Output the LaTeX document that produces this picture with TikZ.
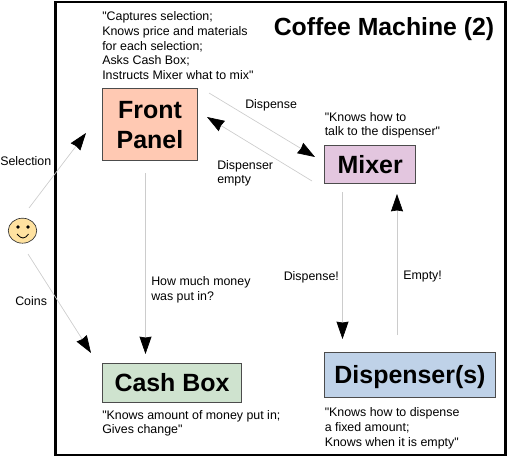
\documentclass[tikz,border=0pt]{standalone}
\usepackage{fontspec}
\setmainfont{Liberation Sans}[Ligatures=TeXOff]
\usetikzlibrary{arrows.meta,shapes.geometric}
\definecolor{fpfill}{HTML}{FFC9B3}
\definecolor{mxfill}{HTML}{E3C6DF}
\definecolor{cbfill}{HTML}{CFE3CF}
\definecolor{dsfill}{HTML}{BFD2E8}
\definecolor{facefill}{HTML}{FFE2A0}
\tikzset{
  px/.style={x=0.75pt,y=-0.75pt},
  boxed/.style={draw=black!70,line width=0.75pt,inner sep=0pt,font=\fontsize{18.7}{22.5}\selectfont\bfseries,align=center},
  note/.style={anchor=north west,inner sep=0pt,align=left,font=\fontsize{9.3}{11}\selectfont},
  conn/.style={draw=black!20,line width=0.5pt,-{Stealth[length=13pt,width=9pt,inset=0.7pt,color=black]}}
}
\begin{document}
\begin{tikzpicture}[px]
\useasboundingbox (0,0) rectangle (508,457);
\node[draw=black,line width=1.9pt,minimum width=450*0.75pt,minimum height=453*0.75pt,inner sep=0pt] (frame) at (280.5,228.5) {};
\node[inner sep=0pt,font=\fontsize{18.6}{22}\selectfont\bfseries] (title) at (384,29.5) {Coffee Machine (2)};

\node[boxed,fill=fpfill,minimum width=95*0.75pt,minimum height=72*0.75pt] (fp) at (150,124) {\raisebox{0pt}[13.5pt][0pt]{Front}\\\raisebox{0pt}[13.5pt][0pt]{Panel}};
\node[boxed,fill=mxfill,minimum width=91.5*0.75pt,minimum height=38*0.75pt] (mx) at (370.2,164) {\raisebox{0pt}[13.5pt][0pt]{Mixer}};
\node[boxed,fill=cbfill,minimum width=139*0.75pt,minimum height=39*0.75pt] (cb) at (172,382.5) {\raisebox{0pt}[14.2pt][0pt]{Cash Box}};
\node[boxed,fill=dsfill,minimum width=171*0.75pt,minimum height=45*0.75pt] (ds) at (410,374.5) {\raisebox{0pt}[14.2pt][0pt]{Dispenser(s)}};

\node[ellipse,draw=black!80,line width=0.5pt,fill=facefill,minimum width=28.5*0.75pt,minimum height=25*0.75pt,inner sep=0pt] (face) at (22.5,230.7) {};
\fill (18,227) circle (1.9);
\fill (28,227) circle (1.9);
\draw[line width=0.6pt] (17,234) .. controls (20,237) and (21,238) .. (23,238) .. controls (25,238) and (26,237) .. (28.5,234);

\node[note] (nfp) at (102,11.5) {"Captures selection;\\Knows price and materials\\for each selection;\\Asks Cash Box;\\Instructs Mixer what to mix"};
\node[note] (nmx) at (324.5,112) {"Knows how to\\talk to the dispenser"};
\node[note] (ncb) at (102,410) {"Knows amount of money put in;\\Gives change"};
\node[note] (nds) at (324.5,407.5) {"Knows how to dispense\\a fixed amount;\\Knows when it is empty"};

\node[note] (lsel) at (0,156.5) {Selection};
\node[note] (lcoin) at (15,296) {Coins};
\node[note] (lmoney) at (151,276.5) {How much money\\was put in?};
\node[note] (ldisp) at (245,99) {Dispense};
\node[note] (lemp) at (217,160) {Dispenser\\empty};
\node[note] (ldisp2) at (283.5,271) {Dispense!};
\node[note] (lemp2) at (403,271) {Empty!};

\coordinate (a1) at (29,208);   \coordinate (b1) at (86,133);
\coordinate (a2) at (28,254);   \coordinate (b2) at (91,353);
\coordinate (a3) at (145.5,173);\coordinate (b3) at (145.5,354);
\coordinate (a4) at (209,93);   \coordinate (b4) at (315,157);
\coordinate (a5) at (312,181);  \coordinate (b5) at (207,117);
\coordinate (a6) at (342.5,192);\coordinate (b6) at (342.5,339);
\coordinate (a7) at (397,335);  \coordinate (b7) at (397,194);
\draw[conn] (a1) -- (b1);
\draw[conn] (a2) -- (b2);
\draw[conn] (a3) -- (b3);
\draw[conn] (a4) -- (b4);
\draw[conn] (a5) -- (b5);
\draw[conn] (a6) -- (b6);
\draw[conn] (a7) -- (b7);
\end{tikzpicture}
\end{document}
